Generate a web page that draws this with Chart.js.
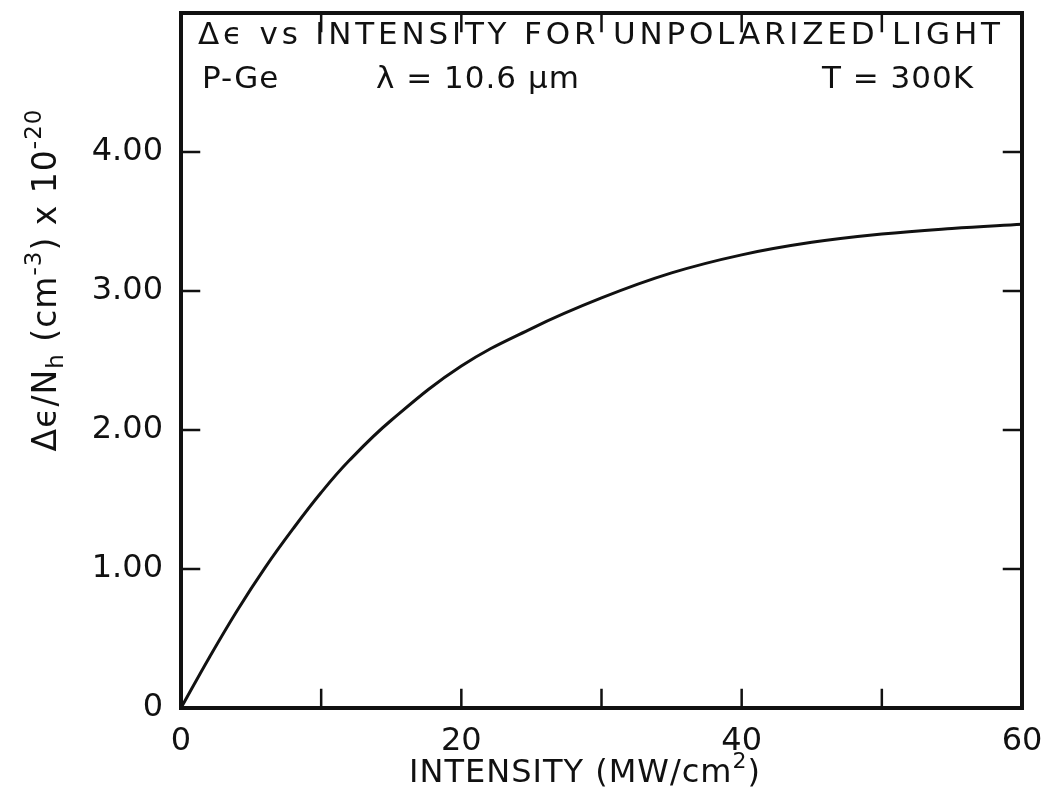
<!DOCTYPE html>
<html>
<head>
<meta charset="utf-8">
<script src="https://cdn.jsdelivr.net/npm/chart.js@4.4.1/dist/chart.umd.min.js"></script>
<style>
    html, body { margin: 0; padding: 0; background: #fff; }
    #wrap { width: 1048px; height: 789px; }
</style>
</head>
<body>
<div id="wrap"><canvas id="chart"></canvas></div>
<script>
// intensity, MW/cm^2
const intensity = [0, 2, 4, 6, 8, 10, 12, 15, 20, 25, 30, 35, 40, 45, 50, 55, 60];
// Δε/Nh in units of 1e-20 cm^3
const deltaEps = [0, 0.36, 0.70, 1.01, 1.29, 1.55, 1.78, 2.07, 2.46, 2.73, 2.95, 3.13, 3.26, 3.35, 3.41, 3.45, 3.48];

const xTicks = [0, 10, 20, 30, 40, 50, 60];
const xLabels = ['0', '', '20', '', '40', '', '60'];
const yTicks = [0, 1, 2, 3, 4, 5];
const yLabels = ['0', '1.00', '2.00', '3.00', '4.00', ''];

const titleLine1 = 'Δϵ vs INTENSITY FOR UNPOLARIZED LIGHT';
const titleLine2 = ['P-Ge', 'λ = 10.6 μm', 'T = 300K'];
// подписи осей кусками: обычный текст / верхний / нижний индекс
const xTitleParts = [['INTENSITY (MW/cm', 0], ['2', 1], [')', 0]];
const yTitleParts = [['Δϵ/N', 0], ['h', -1], [' (cm', 0], ['-3', 1], [') x 10', 0], ['-20', 1]];

const FONT = '"DejaVu Sans", sans-serif';
const INK = '#111';

// рисует строку с индексами, x - левый край, y - базовая линия
function drawParts(ctx, parts, x, y, size) {
    let cx = x;
    parts.forEach(([txt, mode]) => {
        const fs = mode === 0 ? size : Math.round(size * 0.7);
        ctx.font = fs + 'px ' + FONT;
        const dy = mode === 1 ? -size * 0.45 : (mode === -1 ? size * 0.2 : 0);
        ctx.fillText(txt, cx, y + dy);
        cx += ctx.measureText(txt).width;
    });
    return cx - x;
}

function partsWidth(ctx, parts, size) {
    let w = 0;
    parts.forEach(([txt, mode]) => {
        const fs = mode === 0 ? size : Math.round(size * 0.7);
        ctx.font = fs + 'px ' + FONT;
        w += ctx.measureText(txt).width;
    });
    return w;
}

// рамка с засечками внутрь и подписи
const framePlugin = {
    id: 'frame',
    afterDraw(chart) {
        const { ctx, chartArea: a, scales } = chart;
        const tick = 18;
        ctx.save();
        ctx.strokeStyle = INK;
        ctx.lineCap = 'square';

        ctx.lineWidth = 2.5;
        ctx.beginPath();
        xTicks.forEach(v => {
            const px = scales.x.getPixelForValue(v);
            ctx.moveTo(px, a.bottom); ctx.lineTo(px, a.bottom - tick);
            ctx.moveTo(px, a.top); ctx.lineTo(px, a.top + tick);
        });
        yTicks.forEach(v => {
            const py = scales.y.getPixelForValue(v);
            ctx.moveTo(a.left, py); ctx.lineTo(a.left + tick, py);
            ctx.moveTo(a.right, py); ctx.lineTo(a.right - tick, py);
        });
        ctx.stroke();

        ctx.lineWidth = 4;
        ctx.strokeRect(a.left, a.top, a.right - a.left, a.bottom - a.top);

        // заголовок внутри графика
        ctx.fillStyle = INK;
        ctx.font = '31px ' + FONT;
        ctx.textBaseline = 'alphabetic';
        ctx.textAlign = 'left';
        const target = 1000 - 198;
        const w = ctx.measureText(titleLine1).width;
        ctx.letterSpacing = ((target - w) / (titleLine1.length - 1)).toFixed(2) + 'px';
        ctx.fillText(titleLine1, 198, 44);
        ctx.letterSpacing = '1px';
        ctx.fillText(titleLine2[0], 202, 88);
        ctx.fillText(titleLine2[1], 376, 88);
        ctx.fillText(titleLine2[2], 822, 88);
        ctx.letterSpacing = '1px';

        // подпись оси X
        const xs = 32;
        const xw = partsWidth(ctx, xTitleParts, xs);
        drawParts(ctx, xTitleParts, 585 - xw / 2, 782, xs);

        // подпись оси Y
        const ys = 33;
        const yw = partsWidth(ctx, yTitleParts, ys);
        ctx.translate(56, 280);
        ctx.rotate(-Math.PI / 2);
        drawParts(ctx, yTitleParts, -yw / 2, 0, ys);
        ctx.restore();
    }
};

const ctx = document.getElementById('chart').getContext('2d');
new Chart(ctx, {
    type: 'line',
    data: {
        datasets: [{
            data: intensity.map((x, i) => ({ x: x, y: deltaEps[i] })),
            borderColor: INK,
            borderWidth: 3,
            pointRadius: 0,
            fill: false,
            tension: 0.4
        }]
    },
    options: {
        responsive: true,
        maintainAspectRatio: false,
        animation: false,
        layout: { padding: { top: 13, right: 26, left: 0, bottom: 0 } },
        plugins: {
            legend: { display: false },
            tooltip: { enabled: false }
        },
        scales: {
            x: {
                type: 'linear',
                min: 0,
                max: 60,
                grid: { display: false },
                border: { display: false },
                afterBuildTicks: s => { s.ticks = xTicks.map(v => ({ value: v })); },
                afterFit: s => { s.height = 81; s.paddingLeft = 0; s.paddingRight = 0; },
                ticks: {
                    color: INK,
                    font: { family: FONT, size: 32 },
                    padding: 6,
                    maxRotation: 0,
                    autoSkip: false,
                    callback: v => xLabels[xTicks.indexOf(v)]
                }
            },
            y: {
                min: 0,
                max: 5,
                grid: { display: false },
                border: { display: false },
                afterBuildTicks: s => { s.ticks = yTicks.map(v => ({ value: v })); },
                afterFit: s => { s.width = 181; s.paddingTop = 0; s.paddingBottom = 0; },
                ticks: {
                    color: INK,
                    font: { family: FONT, size: 32 },
                    padding: 10,
                    autoSkip: false,
                    callback: v => yLabels[yTicks.indexOf(v)]
                }
            }
        }
    },
    plugins: [framePlugin]
});
</script>
</body>
</html>
